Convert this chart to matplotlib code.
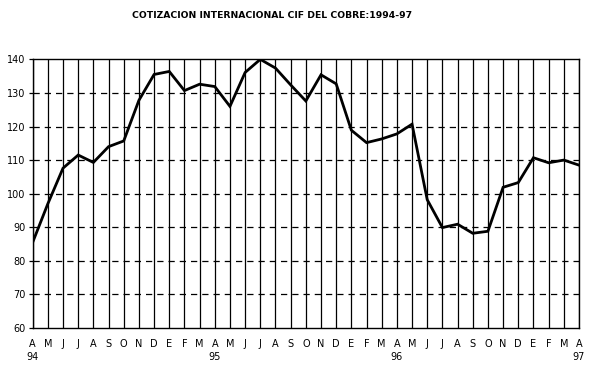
import numpy as np
import matplotlib.pyplot as plt

# Monthly CIF copper price, April 1994 - April 1997
months = ["A", "M", "J", "J", "A", "S", "O", "N", "D", "E", "F", "M",
          "A", "M", "J", "J", "A", "S", "O", "N", "D", "E", "F", "M",
          "A", "M", "J", "J", "A", "S", "O", "N", "D", "E", "F", "M",
          "A"]
years = {0: "94", 12: "95", 24: "96", 36: "97"}
price = [85.5, 97.0, 107.6, 111.5, 109.3, 114.0, 115.7, 127.8, 135.5, 136.4,
         130.7, 132.6, 131.9, 126.0, 136.1, 140.0, 137.4, 132.4, 127.6, 135.4,
         132.7, 118.9, 115.2, 116.3, 117.8, 120.7, 98.2, 89.9, 90.9, 88.2,
         88.8, 101.9, 103.3, 110.7, 109.2, 110.0, 108.5]

x = np.arange(len(price))

fig = plt.figure(figsize=(5.92, 3.71), dpi=100)
ax = fig.add_axes([0.0552, 0.116, 0.9228, 0.724])

# Grid: solid vertical per month, dashed horizontal per 10
for xi in x:
    ax.axvline(xi, color="black", lw=0.9, zorder=1)
for yv in range(70, 140, 10):
    ax.axhline(yv, color="black", lw=0.9, linestyle=(0, (5, 4)), zorder=1)

ax.plot(x, price, color="black", lw=2.0, zorder=3, solid_joinstyle="miter")

ax.set_xlim(0, len(price) - 1)
ax.set_ylim(60, 140)
ax.set_yticks(range(60, 141, 10))
ax.set_xticks(x)
ax.set_xticklabels(months)
ax.tick_params(axis="y", length=3, width=0.9, labelsize=7, pad=2)
ax.tick_params(axis="x", length=0, labelsize=7, pad=8)
for s in ax.spines.values():
    s.set_linewidth(1.0)

for i, yr in years.items():
    ax.text(i, -0.09, yr, transform=ax.get_xaxis_transform(),
            ha="center", va="top", fontsize=7)

fig.text(272 / 592, 1 - 16 / 371, "COTIZACION INTERNACIONAL CIF DEL COBRE:1994-97",
         ha="center", va="center", fontsize=6.7, fontweight="bold")

fig.savefig("out.png", dpi=100)
